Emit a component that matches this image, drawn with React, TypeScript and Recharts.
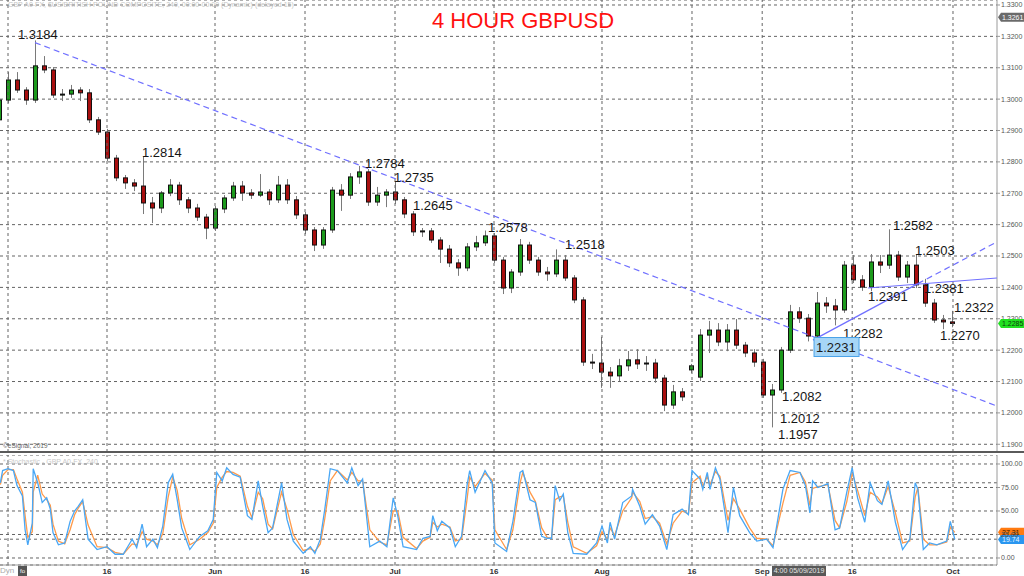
import React from 'react';
import { ComposedChart, Bar, Line, Scatter, XAxis, YAxis, CartesianGrid, ReferenceLine } from 'recharts';

const FONT = '"Liberation Sans", Arial, Helvetica, sans-serif';

// ---- time axis (trading-day slots) ----
const X_MIN = -0.889;
const X_MAX = 109.889;
const dateTickSlots = [0, 11, 23, 33, 43, 54, 66, 76, 83.8, 93.8, 105];
const dateTickLabels = ['', '16', 'Jun', '16', 'Jul', '16', 'Aug', '16', 'Sep', '16', 'Oct'];

// ---- price axis ----
const PRICE_MIN = 1.18754;
const PRICE_MAX = 1.33159;
const priceTicks = [1.19, 1.2, 1.21, 1.22, 1.23, 1.24, 1.25, 1.26, 1.27, 1.28, 1.29, 1.3, 1.31, 1.32, 1.33];

// ---- daily candles (slot -1 .. 105) ----
const opens = [1.2934, 1.2997, 1.3061, 1.3029, 1.2997, 1.3106, 1.3093, 1.3013, 1.3016, 1.3029, 1.3020, 1.2934, 1.2895, 1.2812, 1.2749, 1.2733, 1.2723, 1.2669, 1.2653, 1.2701, 1.2726, 1.2679, 1.2653, 1.2624, 1.2589, 1.2650, 1.2685, 1.2723, 1.2701, 1.2694, 1.2704, 1.2679, 1.2726, 1.2679, 1.2631, 1.2583, 1.2535, 1.2583, 1.2710, 1.2694, 1.2752, 1.2768, 1.2672, 1.2694, 1.2704, 1.2679, 1.2634, 1.2577, 1.2580, 1.2551, 1.2522, 1.2478, 1.2462, 1.2529, 1.2542, 1.2564, 1.2487, 1.2398, 1.2449, 1.2535, 1.2487, 1.2449, 1.2443, 1.2487, 1.2430, 1.2360, 1.2162, 1.2159, 1.2130, 1.2118, 1.2150, 1.2169, 1.2156, 1.2159, 1.2111, 1.2025, 1.2067, 1.2137, 1.2114, 1.2248, 1.2264, 1.2226, 1.2264, 1.2216, 1.2191, 1.2162, 1.2057, 1.2073, 1.2200, 1.2322, 1.2302, 1.2245, 1.2350, 1.2341, 1.2328, 1.2471, 1.2424, 1.2401, 1.2481, 1.2471, 1.2503, 1.2433, 1.2471, 1.2408, 1.2350, 1.2296, 1.2290];
const highs = [1.3007, 1.3083, 1.3083, 1.3035, 1.3184, 1.3134, 1.3099, 1.3029, 1.3042, 1.3035, 1.3029, 1.2940, 1.2902, 1.2819, 1.2755, 1.2742, 1.2814, 1.2685, 1.2704, 1.2742, 1.2733, 1.2685, 1.2663, 1.2631, 1.2656, 1.2691, 1.2733, 1.2736, 1.2710, 1.2758, 1.2710, 1.2752, 1.2742, 1.2688, 1.2637, 1.2589, 1.2589, 1.2717, 1.2726, 1.2761, 1.2784, 1.2774, 1.2717, 1.2710, 1.2735, 1.2685, 1.2640, 1.2586, 1.2586, 1.2557, 1.2532, 1.2487, 1.2538, 1.2561, 1.2578, 1.2570, 1.2494, 1.2455, 1.2551, 1.2542, 1.2494, 1.2462, 1.2518, 1.2500, 1.2436, 1.2366, 1.2185, 1.2239, 1.2143, 1.2169, 1.2194, 1.2200, 1.2178, 1.2169, 1.2118, 1.2086, 1.2076, 1.2153, 1.2264, 1.2290, 1.2283, 1.2280, 1.2296, 1.2223, 1.2200, 1.2169, 1.2089, 1.2207, 1.2341, 1.2334, 1.2312, 1.2382, 1.2366, 1.2360, 1.2481, 1.2500, 1.2436, 1.2503, 1.2500, 1.2582, 1.2513, 1.2481, 1.2503, 1.2424, 1.2360, 1.2309, 1.2322];
const lows = [1.2927, 1.2990, 1.3023, 1.2985, 1.2991, 1.3086, 1.3007, 1.2997, 1.3007, 1.2997, 1.2927, 1.2889, 1.2806, 1.2742, 1.2717, 1.2710, 1.2637, 1.2608, 1.2640, 1.2694, 1.2666, 1.2640, 1.2615, 1.2557, 1.2583, 1.2640, 1.2679, 1.2679, 1.2685, 1.2691, 1.2666, 1.2672, 1.2669, 1.2621, 1.2573, 1.2519, 1.2526, 1.2577, 1.2647, 1.2685, 1.2733, 1.2663, 1.2663, 1.2659, 1.2669, 1.2624, 1.2567, 1.2564, 1.2545, 1.2481, 1.2468, 1.2440, 1.2455, 1.2519, 1.2535, 1.2481, 1.2382, 1.2385, 1.2440, 1.2478, 1.2440, 1.2424, 1.2436, 1.2424, 1.2353, 1.2153, 1.2143, 1.2083, 1.2083, 1.2105, 1.2137, 1.2143, 1.2137, 1.2099, 1.2009, 1.2016, 1.2041, 1.2130, 1.2105, 1.2194, 1.2216, 1.2200, 1.2207, 1.2181, 1.2150, 1.2051, 1.1957, 1.2067, 1.2194, 1.2290, 1.2231, 1.2239, 1.2322, 1.2282, 1.2322, 1.2417, 1.2392, 1.2391, 1.2449, 1.2462, 1.2424, 1.2417, 1.2401, 1.2341, 1.2290, 1.2270, 1.2276];
const closes = [1.2997, 1.3061, 1.3029, 1.2997, 1.3106, 1.3093, 1.3013, 1.3016, 1.3029, 1.3020, 1.2934, 1.2895, 1.2812, 1.2749, 1.2733, 1.2723, 1.2669, 1.2653, 1.2701, 1.2726, 1.2679, 1.2653, 1.2624, 1.2589, 1.2650, 1.2685, 1.2723, 1.2701, 1.2694, 1.2704, 1.2679, 1.2726, 1.2679, 1.2631, 1.2583, 1.2535, 1.2583, 1.2710, 1.2694, 1.2752, 1.2768, 1.2672, 1.2694, 1.2704, 1.2679, 1.2634, 1.2577, 1.2580, 1.2551, 1.2522, 1.2478, 1.2462, 1.2529, 1.2542, 1.2564, 1.2487, 1.2398, 1.2449, 1.2535, 1.2487, 1.2449, 1.2443, 1.2487, 1.2430, 1.2360, 1.2162, 1.2159, 1.2130, 1.2118, 1.2150, 1.2169, 1.2156, 1.2159, 1.2111, 1.2025, 1.2067, 1.2051, 1.2150, 1.2248, 1.2264, 1.2226, 1.2264, 1.2216, 1.2191, 1.2162, 1.2057, 1.2073, 1.2200, 1.2322, 1.2302, 1.2245, 1.2350, 1.2341, 1.2328, 1.2471, 1.2424, 1.2401, 1.2481, 1.2471, 1.2503, 1.2433, 1.2471, 1.2408, 1.2350, 1.2296, 1.2290, 1.2285];

const candles = opens.map((o, i) => ({ slot: i - 1, o, h: highs[i], l: lows[i], c: closes[i] }));

// ---- annotations (label text, anchored at slot / price of its left-middle) ----
const annotations = [
  { text: '1.3184', slot: 1.11, price: 1.32075 },
  { text: '1.2814', slot: 14.89, price: 1.28283 },
  { text: '1.2784', slot: 39.67, price: 1.27964 },
  { text: '1.2735', slot: 42.89, price: 1.27518 },
  { text: '1.2645', slot: 45.0, price: 1.26594 },
  { text: '1.2578', slot: 53.33, price: 1.25924 },
  { text: '1.2518', slot: 61.89, price: 1.25351 },
  { text: '1.2582', slot: 98.33, price: 1.25988 },
  { text: '1.2503', slot: 100.78, price: 1.25191 },
  { text: '1.2391', slot: 95.56, price: 1.23694 },
  { text: '1.2381', slot: 101.78, price: 1.2398 },
  { text: '1.2322', slot: 105.11, price: 1.23375 },
  { text: '1.2282', slot: 92.78, price: 1.22546 },
  { text: '1.2231', slot: 89.67, price: 1.221, boxed: true },
  { text: '1.2270', slot: 103.56, price: 1.22451 },
  { text: '1.2082', slot: 86.0, price: 1.20507 },
  { text: '1.2012', slot: 85.78, price: 1.19837 },
  { text: '1.1957', slot: 85.56, price: 1.19296 },
];

// ---- trend lines ----
const trendLines = [
  { x1: 3.0, y1: 1.3180, x2: 109.88, y2: 1.2022, dashed: true },
  { x1: 89.44, y1: 1.2232, x2: 101.1, y2: 1.2412, dashed: false },
  { x1: 101.1, y1: 1.2412, x2: 109.88, y2: 1.2545, dashed: true },
  { x1: 95.56, y1: 1.2398, x2: 109.88, y2: 1.2430, dashed: false },
];

// ---- price badges on the axis ----
const priceBadges = [
  { id: 'high', slot: X_MAX, price: 1.3261 },
  { id: 'last', slot: X_MAX, price: 1.2285 },
];

// ---- stochastic ----
const STOCH_MIN = -7.45;
const STOCH_MAX = 109.57;
const stochTicks = [0, 25, 50, 75, 100];
const stochExtraLevels = [20, 80];
const stochT = [-0.85, -0.6, 0, 0.6, 1.0, 1.6, 1.9, 2.2, 2.7, 2.8, 3.3, 3.8, 4.3, 4.7, 5.0, 5.6, 6.3, 6.9, 7.4, 7.8, 8.3, 8.9, 9.9, 11.0, 11.9, 12.8, 13.8, 14.3, 14.9, 15.4, 16.1, 16.6, 17.2, 17.8, 18.3, 18.8, 19.3, 20.2, 21.3, 22.2, 22.8, 23.2, 23.8, 24.3, 25.0, 25.8, 26.6, 27.1, 27.8, 28.3, 28.9, 29.4, 30.4, 31.0, 31.7, 32.8, 33.6, 34.1, 34.7, 35.2, 35.8, 36.6, 37.7, 38.2, 38.9, 39.4, 40.2, 41.3, 42.1, 42.8, 43.3, 43.9, 45.4, 46.1, 46.9, 47.2, 47.7, 48.2, 49.1, 49.7, 50.4, 51.0, 51.3, 51.9, 53.0, 53.8, 54.1, 55.4, 56.1, 56.9, 57.2, 58.0, 58.6, 59.3, 59.9, 60.4, 60.8, 61.3, 61.7, 62.2, 62.8, 64.3, 65.4, 66.0, 66.6, 66.9, 67.4, 68.3, 69.3, 69.4, 70.2, 70.8, 71.6, 72.4, 73.2, 73.9, 74.9, 75.6, 76.0, 76.9, 77.2, 77.7, 78.0, 78.6, 79.1, 80.0, 80.6, 81.3, 82.4, 83.2, 84.3, 85.0, 86.1, 86.9, 88.0, 88.6, 89.1, 89.4, 90.0, 91.1, 91.9, 92.4, 93.2, 93.8, 94.4, 95.2, 95.8, 96.6, 97.1, 97.8, 98.6, 99.4, 100.2, 100.8, 101.1, 101.7, 102.4, 103.2, 104.3, 104.7, 105.2];
const stochK = [80, 93, 95, 93, 77, 66, 30, 14, 37, 95, 80, 59, 64, 52, 27, 14, 16, 39, 50, 55, 62, 20, 9, 12, 4, 4, 20, 11, 36, 12, 20, 11, 34, 80, 89, 62, 32, 9, 23, 29, 41, 91, 82, 96, 89, 86, 45, 41, 82, 55, 27, 32, 80, 41, 18, 5, 12, 5, 20, 52, 95, 93, 80, 96, 77, 84, 12, 18, 12, 64, 45, 12, 9, 21, 23, 45, 29, 39, 32, 12, 23, 77, 93, 70, 93, 80, 16, 7, 39, 91, 93, 62, 59, 23, 21, 21, 77, 61, 68, 27, 5, 4, 16, 34, 16, 38, 20, 59, 66, 73, 55, 36, 46, 34, 9, 46, 52, 46, 93, 84, 73, 91, 73, 96, 84, 27, 75, 45, 27, 18, 20, 11, 73, 93, 91, 77, 48, 82, 75, 79, 30, 32, 70, 96, 64, 38, 80, 61, 57, 82, 38, 9, 20, 80, 73, 9, 16, 14, 18, 39, 19.74];
const stochD = [78, 88, 94, 94, 84, 70, 45, 22, 28, 70, 88, 68, 62, 56, 36, 18, 15, 30, 46, 53, 60, 35, 12, 11, 6, 4, 15, 14, 28, 20, 18, 14, 26, 65, 86, 72, 42, 14, 20, 27, 37, 75, 86, 92, 91, 87, 55, 43, 70, 63, 36, 31, 70, 52, 25, 8, 10, 7, 15, 42, 82, 93, 83, 91, 82, 82, 30, 17, 14, 50, 50, 22, 10, 18, 22, 38, 33, 36, 33, 18, 20, 62, 86, 76, 90, 83, 30, 9, 30, 80, 91, 70, 60, 32, 22, 21, 62, 65, 66, 38, 12, 5, 13, 28, 20, 32, 24, 50, 64, 70, 60, 42, 44, 37, 15, 37, 50, 47, 80, 87, 76, 87, 78, 92, 87, 40, 63, 52, 32, 21, 20, 13, 58, 88, 91, 81, 56, 74, 76, 78, 40, 32, 60, 90, 72, 45, 70, 65, 58, 76, 48, 16, 18, 65, 75, 20, 14, 14, 17, 33, 27.31];
const stochData = stochT.map((t, i) => ({ t, k: stochK[i], d: stochD[i] }));
const stochBadges = [
  { id: 'd', t: X_MAX, v: 27.31 },
  { id: 'k', t: X_MAX, v: 19.74 },
];

// ---- styles ----
const GRID = '#646464';
const GREEN = '#1c9a1c';
const RED = '#a80f0f';
const TREND = '#7070ff';
const BADGE_STYLE: Record<string, { bg: string; fg: string; digits: number }> = {
  high: { bg: '#6a6a6a', fg: '#ffffff', digits: 4 },
  last: { bg: '#22e022', fg: '#0b3d0b', digits: 4 },
  d: { bg: '#ff7a10', fg: '#3a1a00', digits: 2 },
  k: { bg: '#2a96f0', fg: '#e8f4ff', digits: 2 },
};

const Candle = (props: any) => {
  const { x, y, width, height, payload } = props;
  if (x == null || y == null || !payload) return null;
  const top = Math.min(y, y + height);
  const bottom = Math.max(y, y + height);
  const span = payload.h - payload.l;
  const k = span > 0 ? (bottom - top) / span : 0;
  const yo = top + (payload.h - payload.o) * k;
  const yc = top + (payload.h - payload.c) * k;
  const bodyTop = Math.min(yo, yc);
  const bodyH = Math.max(1, Math.abs(yc - yo));
  const cx = Math.round(x + width / 2) + 0.5;
  const up = payload.c >= payload.o;
  return (
    <g>
      <line x1={cx} x2={cx} y1={top - 1} y2={bottom + 1} stroke="#7a7a7a" strokeWidth={1} />
      <rect x={cx - width / 2} y={bodyTop} width={width} height={bodyH} fill={up ? GREEN : RED} stroke="#111" strokeWidth={1} />
    </g>
  );
};

const AnnotationMark = (props: any) => {
  const { cx, cy, payload } = props;
  if (cx == null || cy == null || !payload) return null;
  if (payload.boxed) {
    return (
      <g>
        <rect x={cx - 1} y={cy - 9.5} width={45} height={19} fill="#a6d6f7" stroke="#4aa3e8" strokeWidth={1} />
        <text x={cx + 1} y={cy + 0.5} dominantBaseline="central" fontSize={13} fontFamily={FONT} fill="#1a1a1a">{payload.text}</text>
      </g>
    );
  }
  return (
    <text x={cx} y={cy} dominantBaseline="central" fontSize={13} fontFamily={FONT} fill="#151515">{payload.text}</text>
  );
};

const makeBadge = (valueKey: string) => (props: any) => {
  const { cx, cy, payload } = props;
  if (cx == null || cy == null || !payload) return null;
  const st = BADGE_STYLE[payload.id];
  const h = 9;
  const w = 27;
  const val = payload[valueKey] as number;
  return (
    <g>
      <path d={`M${cx + 1},${cy} L${cx + 4},${cy - h / 2} L${cx + w},${cy - h / 2} L${cx + w},${cy + h / 2} L${cx + 4},${cy + h / 2} Z`} fill={st.bg} />
      <text x={cx + 5} y={cy + 0.5} dominantBaseline="central" fontSize={7} fontFamily={FONT} fill={st.fg}>{val.toFixed(st.digits)}</text>
    </g>
  );
};
const PriceBadge = makeBadge('price');
const StochBadge = makeBadge('v');

const tickLabel = (v: number) => {
  const i = dateTickSlots.indexOf(v);
  return i >= 0 ? dateTickLabels[i] : '';
};

export default function App() {
  return (
    <div style={{ position: 'absolute', left: 0, top: 0, width: 1024, height: 576, background: '#fff', overflow: 'hidden', fontFamily: FONT }}>
      {/* price panel */}
      <div style={{ position: 'absolute', left: 0, top: 0 }}>
        <ComposedChart width={1024} height={452} data={candles} margin={{ top: 0, right: 0, bottom: 0, left: 0 }}>
          <CartesianGrid horizontal vertical={false} stroke={GRID} strokeDasharray="3 3" />
          <XAxis dataKey="slot" type="number" domain={[X_MIN, X_MAX]} allowDataOverflow hide />
          <YAxis orientation="right" width={27} domain={[PRICE_MIN, PRICE_MAX]} ticks={priceTicks} interval={0}
            tickFormatter={(v: number) => v.toFixed(4)} tick={{ fontSize: 7, fill: '#555', fontFamily: FONT }}
            tickSize={3} tickMargin={1} tickLine={{ stroke: '#999' }} axisLine={{ stroke: '#9a9a9a' }} />
          {dateTickSlots.map((s) => (
            <ReferenceLine key={'v' + s} x={s} stroke={GRID} strokeDasharray="3 3" ifOverflow="visible" />
          ))}
          <Bar dataKey={(d: any) => [d.l, d.h]} barSize={4} shape={<Candle />} isAnimationActive={false} />
        </ComposedChart>
      </div>

      {/* overlay: trend lines, labels, badges */}
      <div style={{ position: 'absolute', left: 0, top: 0, pointerEvents: 'none' }}>
        <ComposedChart width={1024} height={452} margin={{ top: 0, right: 0, bottom: 0, left: 0 }}>
          <XAxis dataKey="slot" type="number" domain={[X_MIN, X_MAX]} hide />
          <YAxis orientation="right" width={27} domain={[PRICE_MIN, PRICE_MAX]} tick={false} axisLine={false} tickLine={false} />
          {trendLines.map((t, i) => (
            <ReferenceLine key={'t' + i} segment={[{ x: t.x1, y: t.y1 }, { x: t.x2, y: t.y2 }]} stroke={TREND}
              strokeWidth={1.2} strokeDasharray={t.dashed ? '6 4' : undefined} ifOverflow="visible" />
          ))}
          <Scatter data={annotations} dataKey="price" shape={AnnotationMark} isAnimationActive={false} />
          <Scatter data={priceBadges} dataKey="price" shape={PriceBadge} isAnimationActive={false} />
        </ComposedChart>
      </div>

      {/* separator */}
      <div style={{ position: 'absolute', left: 0, top: 451, width: 1024, height: 2, background: '#5a5a5a' }} />

      {/* stochastic panel */}
      <div style={{ position: 'absolute', left: 0, top: 455 }}>
        <ComposedChart width={1024} height={121} data={stochData} margin={{ top: 0, right: 0, bottom: 0, left: 0 }}>
          <CartesianGrid horizontal vertical={false} stroke={GRID} strokeDasharray="3 3" />
          <XAxis dataKey="t" type="number" domain={[X_MIN, X_MAX]} ticks={dateTickSlots} interval={0}
            tickFormatter={tickLabel} height={11} tickSize={0} tickMargin={3}
            tick={{ fontSize: 8, fill: '#333', fontWeight: 'bold', fontFamily: FONT }} axisLine={{ stroke: '#9a9a9a' }} tickLine={false} />
          <YAxis orientation="right" width={27} domain={[STOCH_MIN, STOCH_MAX]} ticks={stochTicks} interval={0}
            tickFormatter={(v: number) => v.toFixed(2)} tick={{ fontSize: 7, fill: '#555', fontFamily: FONT }}
            tickSize={3} tickMargin={1} tickLine={{ stroke: '#999' }} axisLine={{ stroke: '#9a9a9a' }} />
          {stochExtraLevels.map((lv) => (
            <ReferenceLine key={'h' + lv} y={lv} stroke={GRID} strokeDasharray="3 3" />
          ))}
          {dateTickSlots.map((s) => (
            <ReferenceLine key={'sv' + s} x={s} stroke={GRID} strokeDasharray="3 3" ifOverflow="visible" />
          ))}
          <Line type="linear" dataKey="d" stroke="#ff9a4a" strokeWidth={1.3} dot={false} isAnimationActive={false} />
          <Line type="linear" dataKey="k" stroke="#49a7f5" strokeWidth={1.3} dot={false} isAnimationActive={false} />
          <Scatter data={stochBadges} dataKey="v" shape={StochBadge} isAnimationActive={false} />
        </ComposedChart>
      </div>

      {/* texts */}
      <div style={{ position: 'absolute', left: 8, top: 0, fontSize: 7, color: '#c4c4c4', whiteSpace: 'nowrap', lineHeight: '9px' }}>
        GBP A0-FX, $US/BRITISH POUND COMPOSITE, 240, 00:00-00:00 (Dynamic) (delayed 15)
      </div>
      <div style={{ position: 'absolute', left: 0, width: 1024, top: 8, textAlign: 'center', paddingLeft: 22, boxSizing: 'border-box', fontSize: 22, color: '#ff1010', lineHeight: '26px' }}>
        4 HOUR GBPUSD
      </div>
      <div style={{ position: 'absolute', left: 3, top: 442, fontSize: 6.5, color: '#666', lineHeight: '8px' }}>©eSignal, 2019</div>
      <div style={{ position: 'absolute', left: 3, top: 457, fontSize: 7, color: '#c8c8c8', lineHeight: '9px' }}>* Stochastic - GBP A0-FX, 240</div>
      <div style={{ position: 'absolute', left: 0, top: 566, fontSize: 8, color: '#aaa', lineHeight: '10px' }}>Dyn</div>
      <div style={{ position: 'absolute', left: 18, top: 566, width: 9, height: 10, background: '#555', color: '#fff', fontSize: 6, lineHeight: '10px', textAlign: 'center' }}>fo</div>
      <div style={{ position: 'absolute', left: 772, top: 566, width: 54, height: 10, background: '#585858', color: '#e6e6e6', fontSize: 7, lineHeight: '10px', textAlign: 'center', whiteSpace: 'nowrap' }}>4:00 05/09/2019</div>
    </div>
  );
}
